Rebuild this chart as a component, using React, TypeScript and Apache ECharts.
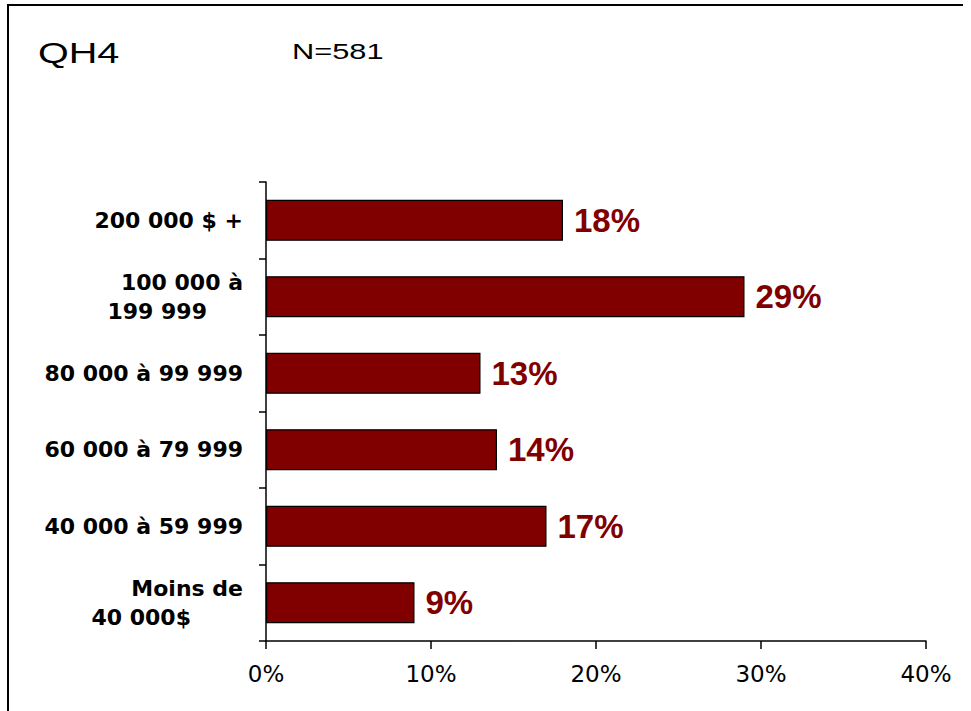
import React, { useEffect, useRef } from "react";
import * as echarts from "echarts";

const categories: string[] = [
  "200 000 $ +",
  "100 000 à\n199 999",
  "80 000 à 99 999",
  "60 000 à 79 999",
  "40 000 à 59 999",
  "Moins de\n40 000$",
];
const values: number[] = [18, 29, 13, 14, 17, 9];
const xTicks: number[] = [0, 10, 20, 30, 40];
const titleText = "QH4";
const sampleText = "N=581";

const BAR_COLOR = "#800000";

export default function App() {
  const ref = useRef<HTMLDivElement>(null);
  useEffect(() => {
    if (!ref.current) return;
    const chart = echarts.init(ref.current, null, { renderer: "svg" });
    const option: any = {
      animation: false,
      backgroundColor: "#ffffff",
      grid: { left: 266, right: 45, top: 182, bottom: 70, containLabel: false },
      xAxis: {
        type: "value",
        min: xTicks[0],
        max: xTicks[xTicks.length - 1],
        interval: xTicks[1] - xTicks[0],
        axisLine: { show: true, lineStyle: { color: "#000", width: 1.5 } },
        axisTick: { show: true, length: 8, inside: false, lineStyle: { color: "#000", width: 1.5 } },
        splitLine: { show: false },
        axisLabel: {
          formatter: "{value}%",
          color: "#000",
          fontFamily: "DejaVu Sans",
          fontSize: 23,
          margin: 21,
        },
      },
      yAxis: {
        type: "category",
        inverse: true,
        data: categories,
        axisLine: { show: true, lineStyle: { color: "#000", width: 1.5 } },
        axisTick: { show: true, length: 7, inside: false, lineStyle: { color: "#000", width: 1.5 } },
        axisLabel: {
          color: "#000",
          margin: 23,
          align: "right",
          formatter: (v: string, idx: number) => {
            const lines = v.split("\n");
            if (lines.length === 1) return `{a|${lines[0]}}`;
            return `{a|${lines[0]}}\n{b${idx}|${lines[1]}}`;
          },
          rich: {
            a: { fontFamily: "DejaVu Sans", fontWeight: "bold", fontSize: 22, lineHeight: 29, color: "#000" },
            b1: { fontFamily: "DejaVu Sans", fontWeight: "bold", fontSize: 22, lineHeight: 29, color: "#000", padding: [0, 36, 0, 0] },
            b5: { fontFamily: "DejaVu Sans", fontWeight: "bold", fontSize: 22, lineHeight: 29, color: "#000", padding: [0, 52, 0, 0] },
          },
        },
      },
      series: [
        {
          type: "bar",
          data: values,
          barWidth: 41,
          itemStyle: { color: BAR_COLOR, borderColor: "#000", borderWidth: 1.2 },
          label: {
            show: true,
            position: "right",
            distance: 11,
            formatter: "{c}%",
            color: BAR_COLOR,
            fontFamily: "Liberation Sans",
            fontWeight: "bold",
            fontSize: 33,
          },
        },
      ],
      graphic: [
        {
          type: "polyline",
          shape: { points: [[8, 711], [8, 5], [963, 5]] },
          style: { stroke: "#000", lineWidth: 2, fill: null },
          silent: true,
        },
        {
          type: "text",
          x: 38,
          y: 52,
          scaleX: 1.32,
          style: {
            text: titleText,
            fontFamily: "Liberation Sans",
            fontSize: 30,
            fill: "#000",
            align: "left",
            verticalAlign: "middle",
          },
        },
        {
          type: "text",
          x: 292,
          y: 52,
          scaleX: 1.4,
          style: {
            text: sampleText,
            fontFamily: "Liberation Sans",
            fontSize: 22,
            fill: "#000",
            align: "left",
            verticalAlign: "middle",
          },
        },
      ],
    };
    chart.setOption(option);
    return () => chart.dispose();
  }, []);
  return (
    <div
      ref={ref}
      style={{ position: "fixed", left: 0, top: 0, width: 971, height: 711 }}
    />
  );
}
